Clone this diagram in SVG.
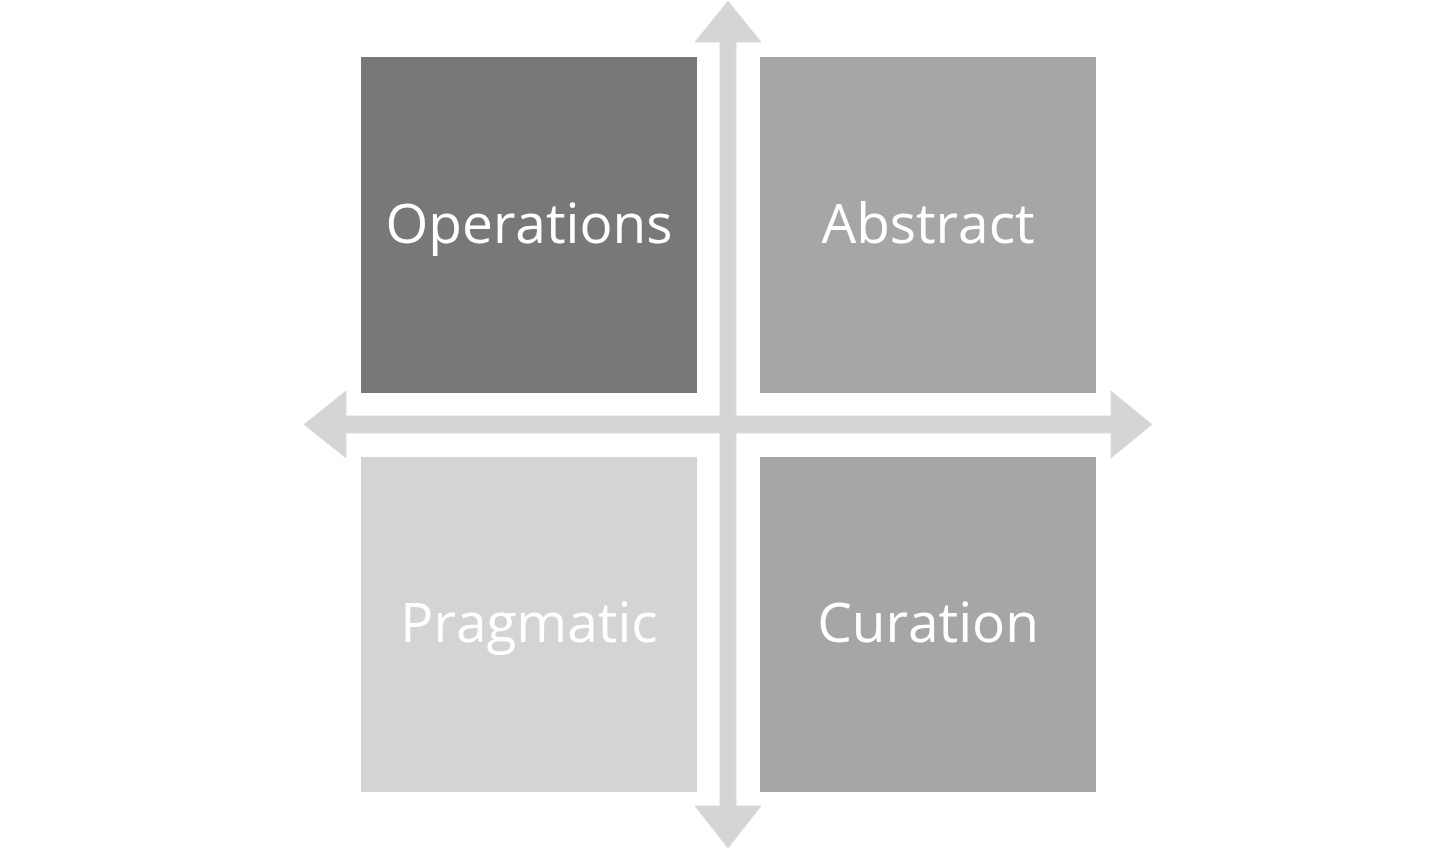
<svg xmlns="http://www.w3.org/2000/svg" width="1456" height="849" viewBox="0 0 1456 849">
<style>
.arrow{fill:#d5d5d5;stroke:#dcdcdc;stroke-width:1}
.lbl{font-family:"Open Sans","Noto Sans",sans-serif;font-size:55px;fill:#ffffff;text-anchor:middle}
</style>
<rect width="1456" height="849" fill="#ffffff"/>
<g id="connectors">
<polygon class="arrow" points="728,1 761,42 736,42 736,416 1111,416 1111,391 1152,424.5 1111,458 1111,433 736,433 736,806 761,806 728,848 695,806 720,806 720,433 346,433 346,458 304,424.5 346,391 346,416 720,416 720,42 695,42"/>
</g>
<g id="operations">
<rect x="361" y="57" width="336" height="336" fill="#787878"/>
<text class="lbl" x="529" y="243">Operations</text>
</g>
<g id="abstract">
<rect x="760" y="57" width="336" height="336" fill="#a6a6a6"/>
<text class="lbl" x="928" y="243">Abstract</text>
</g>
<g id="pragmatic">
<rect x="361" y="457" width="336" height="335" fill="#d4d4d4"/>
<text class="lbl" x="529" y="642">Pragmatic</text>
</g>
<g id="curation">
<rect x="760" y="457" width="336" height="335" fill="#a6a6a6"/>
<text class="lbl" x="928" y="642">Curation</text>
</g>
</svg>
